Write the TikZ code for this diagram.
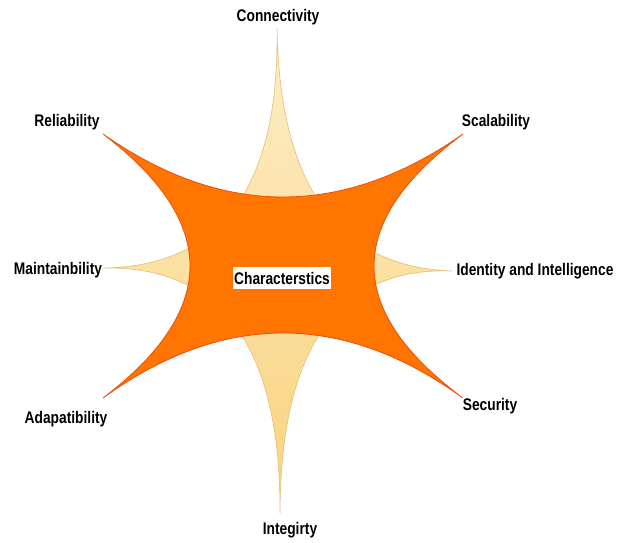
\documentclass[tikz,border=0pt]{standalone}
\usepackage{fontspec}
\usepackage{tikz}
\usetikzlibrary{calc}
\newfontfamily\narrowsans{Liberation Sans}[FakeStretch=0.82]

\definecolor{starorange}{HTML}{FF7500}
\definecolor{staredge}{HTML}{E8500E}
\definecolor{paletop}{HTML}{FDEDC8}
\definecolor{palebottom}{HTML}{F9D37C}
\definecolor{paleedge}{HTML}{E4BE78}

% quadratic bend from #1 to #3 pulled towards #2
\newcommand{\bendto}[3]{.. controls ($(#1)!2/3!(#2)$) and ($(#3)!2/3!(#2)$) .. (#3)}

\begin{document}
\begin{tikzpicture}[x=1pt, y=-1pt,
    trait/.style={font=\narrowsans\bfseries\fontsize{16.8}{18}\selectfont, inner sep=1pt}]
    \useasboundingbox (0,0) rectangle (618,542);

    % tips of the pale star
    \coordinate (N) at (277,28);
    \coordinate (E) at (452,271);
    \coordinate (S) at (280,513);
    \coordinate (W) at (104,268);
    \coordinate (M) at (281,265);
    \shade[top color=paletop, bottom color=palebottom, draw=paleedge, line width=0.6pt]
        (N) \bendto{N}{M}{E} \bendto{E}{M}{S} \bendto{S}{M}{W} \bendto{W}{M}{N} -- cycle;

    % tips of the orange star
    \coordinate (NW) at (103,134);
    \coordinate (NE) at (463,134);
    \coordinate (SE) at (463,398);
    \coordinate (SW) at (103,398);
    \coordinate (Mt) at (283,260);
    \coordinate (Mr) at (285,266);
    \coordinate (Mb) at (283,268);
    \coordinate (Ml) at (277,266);
    \fill[starorange, draw=staredge, line width=0.8pt]
        (NW) \bendto{NW}{Mt}{NE} \bendto{NE}{Mr}{SE} \bendto{SE}{Mb}{SW} \bendto{SW}{Ml}{NW} -- cycle;

    \node[trait, fill=white, inner ysep=4.5pt] at (282,278) (C) {Characterstics};

    \node[trait] at (278,17) (T0) {Connectivity};
    \node[trait] at (496,122) (T1) {Scalability};
    \node[trait] at (535,271) (T2) {Identity and Intelligence};
    \node[trait] at (490,406) (T3) {Security};
    \node[trait] at (290,530) (T4) {Integirty};
    \node[trait] at (66,419) (T5) {Adapatibility};
    \node[trait] at (58,270) (T6) {Maintainbility};
    \node[trait] at (67,122) (T7) {Reliability};
\end{tikzpicture}
\end{document}
